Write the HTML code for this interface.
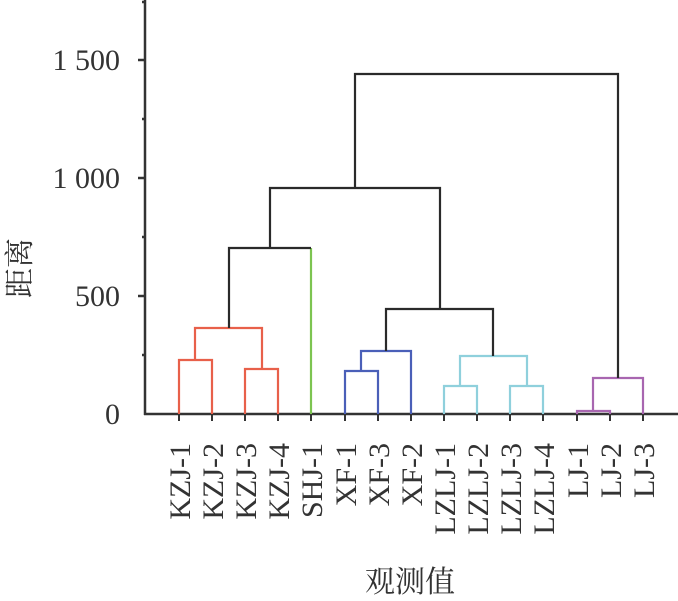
<!DOCTYPE html>
<html><head><meta charset="utf-8"><style>body{margin:0;background:#fff}svg{display:block}</style></head><body>
<svg width="678" height="601" xmlns="http://www.w3.org/2000/svg" font-family="'Liberation Serif','Noto Serif CJK SC',serif">
<g stroke="#333" stroke-width="2.5" fill="none">
<line x1="145" y1="0" x2="145" y2="415"/>
<line x1="144" y1="414" x2="678" y2="414"/>
<line x1="138" y1="60" x2="145" y2="60"/><line x1="138" y1="178" x2="145" y2="178"/><line x1="138" y1="296" x2="145" y2="296"/>
<line x1="142" y1="119" x2="145" y2="119"/><line x1="142" y1="237" x2="145" y2="237"/><line x1="142" y1="355" x2="145" y2="355"/><line x1="142" y1="2" x2="145" y2="2"/>
<g stroke-width="2">
<line x1="179" y1="414" x2="179" y2="421"/><line x1="212" y1="414" x2="212" y2="421"/><line x1="245" y1="414" x2="245" y2="421"/><line x1="278" y1="414" x2="278" y2="421"/><line x1="311" y1="414" x2="311" y2="421"/><line x1="345" y1="414" x2="345" y2="421"/><line x1="378" y1="414" x2="378" y2="421"/><line x1="411" y1="414" x2="411" y2="421"/><line x1="444" y1="414" x2="444" y2="421"/><line x1="477" y1="414" x2="477" y2="421"/><line x1="510" y1="414" x2="510" y2="421"/><line x1="543" y1="414" x2="543" y2="421"/><line x1="577" y1="414" x2="577" y2="421"/><line x1="610" y1="414" x2="610" y2="421"/><line x1="643" y1="414" x2="643" y2="421"/>
</g>
</g>
<g fill="none" stroke-width="2.2">
<g stroke="#e8604a">
<polyline points="179,414 179,360 212,360 212,414"/>
<polyline points="245,414 245,369 278,369 278,414"/>
<polyline points="195,360 195,328 262,328 262,369"/>
</g>
<polyline stroke="#7cc451" points="311,414 311,248"/>
<g stroke="#4a5fb8">
<polyline points="345,414 345,371 378,371 378,414"/>
<polyline points="361,371 361,351 411,351 411,414"/>
</g>
<g stroke="#8fd0dc">
<polyline points="444,414 444,386 477,386 477,414"/>
<polyline points="510,414 510,386 543,386 543,414"/>
<polyline points="460,386 460,356 527,356 527,386"/>
</g>
<g stroke="#a866b0">
<polyline points="577,414 577,411 610,411 610,414"/>
<polyline points="593,411 593,378 643,378 643,414"/>
</g>
<g stroke="#2a2a2a">
<polyline points="229,328 229,248 311,248"/>
<polyline points="386,351 386,309 493,309 493,356"/>
<polyline points="270,248 270,188 440,188 440,309"/>
<polyline points="355,188 355,74 618,74 618,378"/>
</g>
</g>
<g font-size="30" fill="#333" text-anchor="end">
<text x="120" y="70">1 500</text><text x="120" y="188">1 000</text><text x="120" y="306">500</text><text x="120" y="424">0</text>
</g>
<text transform="translate(30,268) rotate(-90)" font-size="30" fill="#333" text-anchor="middle">距离</text>
<g font-size="30" fill="#333" text-anchor="end">
<text transform="translate(190,443) rotate(-90)">KZJ-1</text>
<text transform="translate(223,443) rotate(-90)">KZJ-2</text>
<text transform="translate(256,443) rotate(-90)">KZJ-3</text>
<text transform="translate(289,443) rotate(-90)">KZJ-4</text>
<text transform="translate(322,443) rotate(-90)">SHJ-1</text>
<text transform="translate(356,443) rotate(-90)">XF-1</text>
<text transform="translate(389,443) rotate(-90)">XF-3</text>
<text transform="translate(422,443) rotate(-90)">XF-2</text>
<text transform="translate(455,443) rotate(-90)">LZLJ-1</text>
<text transform="translate(488,443) rotate(-90)">LZLJ-2</text>
<text transform="translate(521,443) rotate(-90)">LZLJ-3</text>
<text transform="translate(554,443) rotate(-90)">LZLJ-4</text>
<text transform="translate(588,443) rotate(-90)">LJ-1</text>
<text transform="translate(621,443) rotate(-90)">LJ-2</text>
<text transform="translate(654,443) rotate(-90)">LJ-3</text>
</g>
<text x="410" y="592" font-size="30" fill="#333" text-anchor="middle">观测值</text>
</svg>
</body></html>
